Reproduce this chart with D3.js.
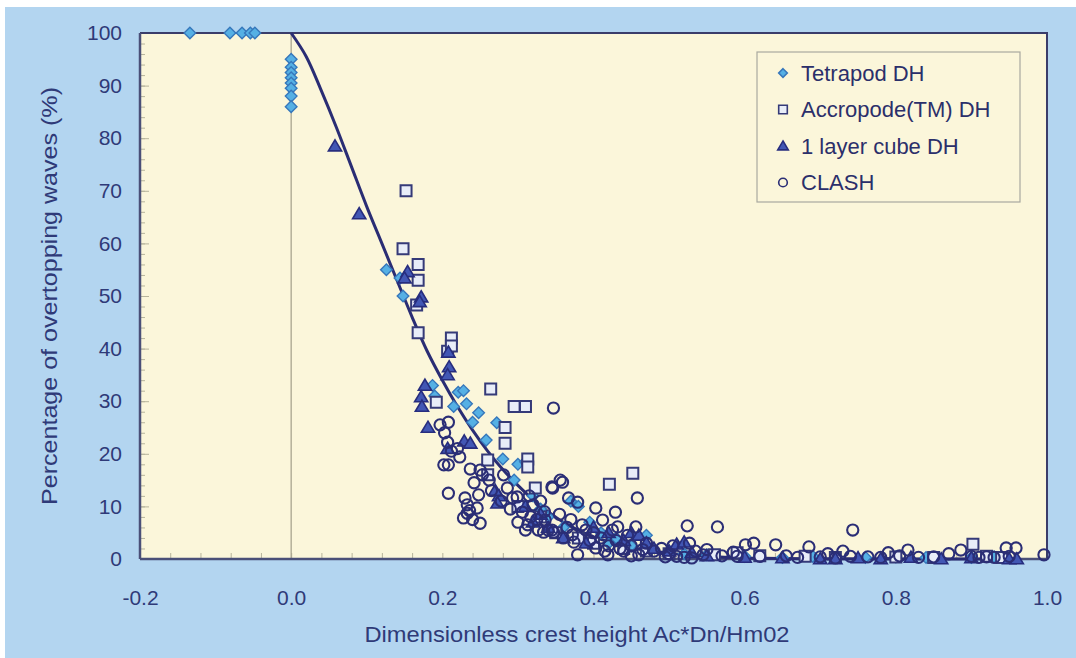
<!DOCTYPE html>
<html><head><meta charset="utf-8">
<script src="https://cdn.jsdelivr.net/npm/d3@7"></script>
<style>
html,body{margin:0;padding:0;background:#fff;}
svg{display:block;font-family:"Liberation Sans",Arial,sans-serif;}
</style></head>
<body><svg id="chart" width="1076" height="658"></svg>
<script>
// ---- data ----
const xTicks = [-0.2, 0.0, 0.2, 0.4, 0.6, 0.8, 1.0];
const yTicks = [0, 10, 20, 30, 40, 50, 60, 70, 80, 90, 100];
const seriesNames = ["Tetrapod DH", "Accropode(TM) DH", "1 layer cube DH", "CLASH"];

const tetrapodX = [-0.134,-0.081,-0.065,-0.054,-0.048, 0,0,0,0,0,0,0,0,
  0.126,0.144,0.148,0.187,0.19,0.221,0.228,0.232,0.248,0.215,0.24,0.258,0.272,0.28,0.3,0.31,0.295,0.32,0.33,0.34,0.36,0.37,0.38,0.395,0.41,0.42,0.43,0.45,0.47,0.5,0.52,0.55,0.6,0.65,0.69,0.72,0.76,0.8,0.84,0.9,0.93];
const tetrapodY = [100,100,100,100,100, 95,93.5,92.5,91.5,90.5,89.5,88,86,
  55,53.4,50,33,31,31.7,32,29.5,27.8,29,26,22.6,25.9,19,18,18.5,15,12,9.5,8,6,11,10,7,5,3,4,2.5,4.5,1.5,1,0.8,0.5,0.3,0.5,0.3,0.3,0.4,0.3,0.3,0.4];

const accropodeX = [0.152,0.148,0.168,0.168,0.166,0.168,0.207,0.212,0.212,0.192,0.264,0.295,0.31,0.283,0.283,0.313,0.313,0.26,0.26,0.323,0.421,0.452,0.3,0.33,0.35,0.38,0.4,0.44,0.47,0.5,0.56,0.59,0.62,0.68,0.72,0.8,0.85,0.902,0.92,0.94];
const accropodeY = [70,59,56,53,48.3,43,39.5,42,40.5,29.8,32.3,29,29,25,22,19,17.5,18.8,16,13.5,14.2,16.3,10,8,5,4,3,2,1.5,1,0.8,1.2,0.6,0.5,0.3,0.4,0.3,2.8,0.5,0.3];

const cubeX = [0.058,0.09,0.154,0.15,0.172,0.17,0.177,0.172,0.173,0.181,0.208,0.209,0.207,0.229,0.237,0.207,0.275,0.273,0.27,0.31,0.32,0.33,0.34,0.36,0.39,0.4,0.42,0.44,0.45,0.46,0.47,0.48,0.5,0.51,0.52,0.53,0.55,0.6,0.65,0.7,0.72,0.75,0.78,0.82,0.86,0.9,0.95,0.96];
const cubeY = [78.5,65.6,54.6,53.4,49.8,48.9,33,30.8,29,25,39.3,36.5,35,22.4,22,21,12,10.6,13,10,7,8.5,6,4,3,6,5,3.5,5,4.5,3,2,1.5,2.8,3.2,1.2,0.6,0.3,0.2,0,0,0.2,0,0.3,0,0.2,0,0];

const clashX = [0.197,0.208,0.203,0.207,0.212,0.202,0.208,0.223,0.237,0.25,0.253,0.208,0.23,0.233,0.236,0.233,0.246,0.25,0.248,0.24,0.228,0.242,0.22,0.262,0.265,
  0.281,0.286,0.293,0.299,0.306,0.313,0.317,0.327,0.334,0.34,0.347,0.32,0.346,0.356,0.347,0.3,0.31,0.325,0.335,0.29,0.278,0.315,0.33,
  0.359,0.345,0.367,0.379,0.403,0.429,0.458,0.412,0.336,0.345,0.372,0.374,0.379,0.403,0.419,0.432,0.456,0.44,0.465,0.39,0.395,0.385,0.41,0.42,0.43,0.445,0.45,0.46,0.47,0.48,0.36,0.37,0.4,0.415,0.425,0.435,0.45,0.355,0.365,
  0.49,0.5,0.51,0.524,0.527,0.535,0.545,0.564,0.52,0.55,0.57,0.585,0.601,0.612,0.59,0.505,0.495,0.53,
  0.62,0.641,0.655,0.67,0.685,0.7,0.71,0.72,0.73,0.743,0.74,0.763,0.78,0.79,0.805,0.816,0.83,0.85,0.87,0.886,0.9,0.91,0.92,0.93,0.946,0.959,0.95,0.996];
const clashY = [25.5,26,24,22.2,20.5,17.9,17.9,19.4,17.1,16.9,16,12.5,11.6,10.3,9.2,8.7,9.7,6.8,12.2,7.5,7.8,14.5,21,15,13,
  16,13.5,11.6,11.8,8.9,6.5,8,5.5,5.1,5.5,5.1,10.3,13.5,15,28.7,7,5.5,7.5,9,9.5,11,12,11,
  14.6,13.7,11.6,10.8,9.7,8.9,11.6,7.4,7.4,5.5,4.6,3.2,0.8,2.1,0.8,6.1,6.1,1.5,1.8,5.5,3.5,6.5,4,2.5,3.5,4.5,2.5,0.8,3,1.5,4,7.5,5,1.5,5.5,2,0.6,8.5,6,
  2,1,0.5,6.3,3,1.5,0.8,6.1,0.3,1.8,0.6,1.3,2.7,3,0.5,2.5,0.4,0.2,
  0.5,2.7,0.6,0.3,2.3,0.4,1,0.2,1.5,5.5,0.5,0.4,0.3,1.2,0.6,1.7,0.3,0.4,1,1.7,0.5,0.3,0.4,0.3,2.1,2.1,0.5,0.8];

const curveX = [0,0.02,0.04,0.06,0.08,0.1,0.12,0.14,0.16,0.18,0.2,0.22,0.24,0.26,0.28,0.3,0.32,0.34,0.36,0.38,0.4,0.45,0.5,0.55,0.6,0.7,0.96];
const curveY = [100,95.5,89,82,74.5,67,60,53,46,39.5,34,29,24.5,20.5,17,14,11.3,9,7,5.5,4.2,2.2,1.1,0.5,0.2,0.05,0];

// ---- layout ----
const svg = d3.select("#chart");
const W = 1076, H = 658;
const plot = {left: 140, right: 1047, top: 33, bottom: 559};
const textCol = "#2f3a78";

svg.append("rect").attr("x", 5).attr("y", 7).attr("width", W - 5).attr("height", H - 7).attr("fill", "#b3d5f0");
svg.append("rect").attr("x", plot.left).attr("y", plot.top)
  .attr("width", plot.right - plot.left).attr("height", plot.bottom - plot.top).attr("fill", "#fbf6da");

const x = d3.scaleLinear().domain([-0.2, 1.0]).range([plot.left, plot.right]);
const y = d3.scaleLinear().domain([0, 100]).range([plot.bottom, plot.top]);

// minor ticks (inside)
const gMinor = svg.append("g");
gMinor.append("g").attr("transform", `translate(0,${plot.bottom})`)
  .call(d3.axisBottom(x).tickValues(d3.range(-0.2, 1.0001, 0.04)).tickSize(-6).tickFormat(""))
  .call(g => g.select(".domain").remove())
  .call(g => g.selectAll("line").attr("stroke", "#b7b49c").attr("stroke-width", 1));
gMinor.append("g").attr("transform", `translate(${plot.left},0)`)
  .call(d3.axisLeft(y).tickValues(d3.range(0, 100.001, 2)).tickSize(-5).tickFormat(""))
  .call(g => g.select(".domain").remove())
  .call(g => g.selectAll("line").attr("stroke", "#b7b49c").attr("stroke-width", 1));
gMinor.append("g").attr("transform", `translate(${plot.left},0)`)
  .call(d3.axisLeft(y).tickValues(yTicks).tickSize(-9).tickFormat(""))
  .call(g => g.select(".domain").remove())
  .call(g => g.selectAll("line").attr("stroke", "#b7b49c").attr("stroke-width", 1));

// zero vertical line
svg.append("line").attr("x1", x(0)).attr("x2", x(0)).attr("y1", plot.top).attr("y2", plot.bottom)
  .attr("stroke", "#a8a590").attr("stroke-width", 1.3);

// tick labels
const xAxis = svg.append("g").attr("transform", `translate(0,${plot.bottom})`)
  .call(d3.axisBottom(x).tickValues(xTicks).tickSize(0).tickPadding(31).tickFormat(d => d.toFixed(1)));
xAxis.select(".domain").remove();
xAxis.selectAll("text").attr("font-size", 21).attr("fill", textCol).attr("font-family", "Liberation Sans, Arial, sans-serif");
const yAxis = svg.append("g").attr("transform", `translate(${plot.left},0)`)
  .call(d3.axisLeft(y).tickValues(yTicks).tickSize(0).tickPadding(18));
yAxis.select(".domain").remove();
yAxis.selectAll("text").attr("font-size", 21).attr("fill", textCol).attr("font-family", "Liberation Sans, Arial, sans-serif");

// frame
svg.append("path").attr("d", `M${plot.left},${plot.top}H${plot.right}V${plot.bottom}`)
  .attr("fill", "none").attr("stroke", "#3a3d6a").attr("stroke-width", 2);
svg.append("line").attr("x1", plot.left).attr("x2", plot.right).attr("y1", plot.bottom).attr("y2", plot.bottom)
  .attr("stroke", "#4a4f78").attr("stroke-width", 2.5);
svg.append("line").attr("x1", plot.left).attr("x2", plot.left).attr("y1", plot.top).attr("y2", plot.bottom)
  .attr("stroke", "#4a4f78").attr("stroke-width", 2.5);

// axis titles
svg.append("text").attr("x", 577).attr("y", 642).attr("text-anchor", "middle")
  .attr("font-size", 22).attr("fill", textCol)
  .attr("textLength", 425).attr("lengthAdjust", "spacingAndGlyphs")
  .text("Dimensionless crest height Ac*Dn/Hm02");
svg.append("text").attr("transform", "translate(57,296) rotate(-90)").attr("text-anchor", "middle")
  .attr("font-size", 22).attr("fill", textCol)
  .attr("textLength", 418).attr("lengthAdjust", "spacingAndGlyphs")
  .text("Percentage of overtopping waves (%)");

// curve
const curveData = curveX.map((d, i) => [d, curveY[i]]);
svg.append("path").datum(curveData)
  .attr("d", d3.line().x(d => x(d[0])).y(d => y(d[1])).curve(d3.curveCatmullRom.alpha(0.5)))
  .attr("fill", "none").attr("stroke", "#2a2d74").attr("stroke-width", 3);

// marker shapes
const shapes = {
  diamond: r => `M0,${-r}L${r},0L0,${r}L${-r},0Z`,
  square: r => `M${-r},${-r}H${r}V${r}H${-r}Z`,
  triangle: r => `M0,${-r*1.05}L${r*1.1},${r*0.8}L${-r*1.1},${r*0.8}Z`,
  circle: r => `M${r},0A${r},${r} 0 1,1 ${-r},0A${r},${r} 0 1,1 ${r},0Z`
};
const styles = [
  {name: seriesNames[0], xs: tetrapodX, ys: tetrapodY, shape: "diamond", r: 5.8, fill: "#55b0e4", stroke: "#3677bb", sw: 1.4},
  {name: seriesNames[1], xs: accropodeX, ys: accropodeY, shape: "square", r: 5.5, fill: "#e8edf8", stroke: "#353a78", sw: 2},
  {name: seriesNames[2], xs: cubeX, ys: cubeY, shape: "triangle", r: 6, fill: "#4257b4", stroke: "#272d7e", sw: 1.6},
  {name: seriesNames[3], xs: clashX, ys: clashY, shape: "circle", r: 5.6, fill: "none", stroke: "#2b2e76", sw: 2.1}
];
styles.forEach(s => {
  const pts = s.xs.map((d, i) => [d, s.ys[i]]);
  svg.append("g").selectAll("path").data(pts).join("path")
    .attr("transform", d => `translate(${x(d[0])},${y(d[1])})`)
    .attr("d", shapes[s.shape](s.r))
    .attr("fill", s.fill).attr("stroke", s.stroke).attr("stroke-width", s.sw);
});

// legend
const lg = svg.append("g");
lg.append("rect").attr("x", 757).attr("y", 52).attr("width", 263).attr("height", 150)
  .attr("fill", "#fbf6da").attr("stroke", "#a9a9a0").attr("stroke-width", 1.2);
styles.forEach((s, i) => {
  const cy = 73 + i * 36.5;
  lg.append("path").attr("transform", `translate(783,${cy})`).attr("d", shapes[s.shape](s.shape === "triangle" ? 4.8 : 4.3))
    .attr("fill", s.fill).attr("stroke", s.stroke).attr("stroke-width", 1.6);
  lg.append("text").attr("x", 801).attr("y", cy).attr("dy", "0.36em")
    .attr("font-size", 22).attr("fill", "#2b2f6a").text(s.name);
});
</script></body></html>
